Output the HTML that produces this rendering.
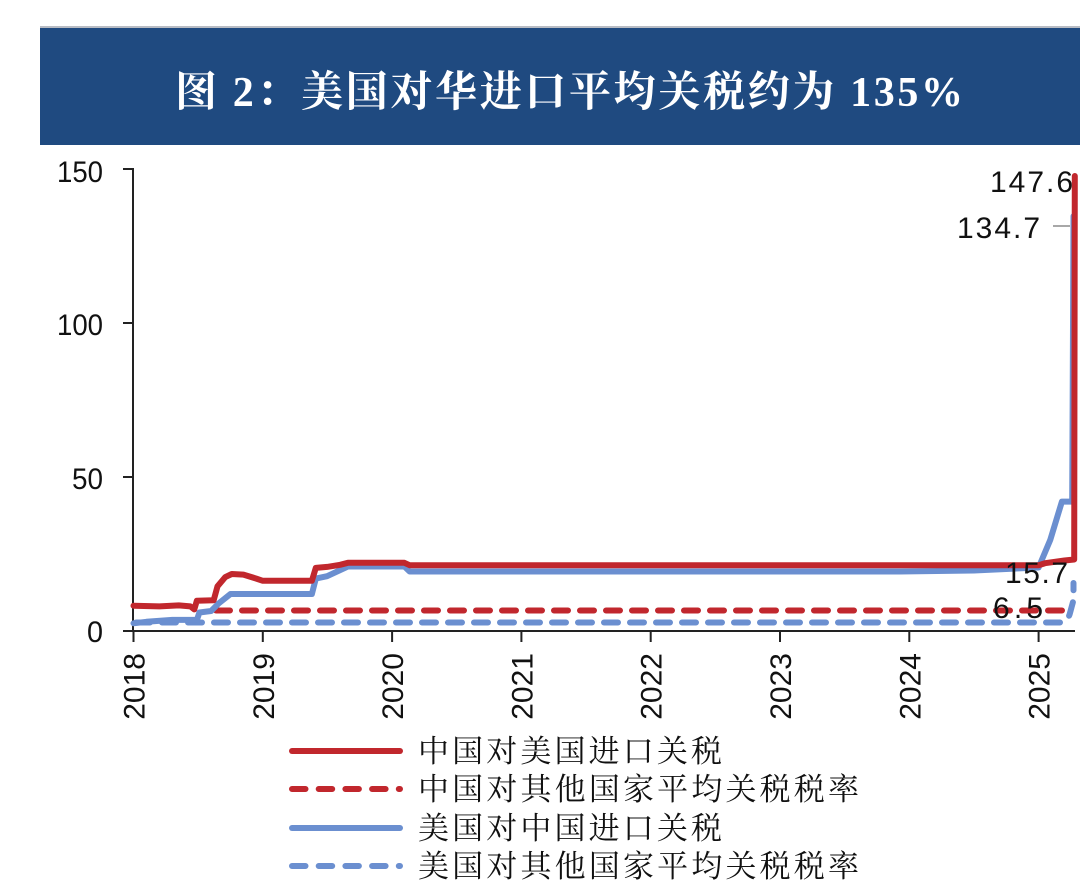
<!DOCTYPE html>
<html>
<head>
<meta charset="utf-8">
<style>
  html,body{margin:0;padding:0;background:#fff;}
  svg{display:block;}
</style>
</head>
<body>
<svg width="1080" height="892" viewBox="0 0 1080 892" xmlns="http://www.w3.org/2000/svg">
  <rect x="0" y="0" width="1080" height="892" fill="#ffffff"/>
  <!-- Title bar -->
  <rect x="40" y="26" width="1040" height="2" fill="#b8bcc4"/>
  <rect x="40" y="28" width="1040" height="117" fill="#1f4a80"/>
  <text x="175" y="106" fill="#ffffff" font-family="'Liberation Serif','Noto Serif CJK SC',serif" font-weight="bold" font-size="42" textLength="788" lengthAdjust="spacing">图 2：美国对华进口平均关税约为 135%</text>

  <!-- Axes -->
  <g stroke="#222" stroke-width="2" fill="none">
    <line x1="133" y1="168" x2="133" y2="632"/>
    <line x1="132" y1="631" x2="1075" y2="631"/>
    <line x1="123" y1="169" x2="133" y2="169"/>
    <line x1="123" y1="323" x2="133" y2="323"/>
    <line x1="123" y1="477" x2="133" y2="477"/>
    <line x1="123" y1="631" x2="133" y2="631"/>
    <line x1="133.5" y1="631" x2="133.5" y2="642"/>
    <line x1="262.8" y1="631" x2="262.8" y2="642"/>
    <line x1="392.1" y1="631" x2="392.1" y2="642"/>
    <line x1="521.4" y1="631" x2="521.4" y2="642"/>
    <line x1="650.7" y1="631" x2="650.7" y2="642"/>
    <line x1="780" y1="631" x2="780" y2="642"/>
    <line x1="909.3" y1="631" x2="909.3" y2="642"/>
    <line x1="1038.6" y1="631" x2="1038.6" y2="642"/>
  </g>

  <!-- Y labels -->
  <g font-family="'Liberation Sans',Arial,sans-serif" font-size="30" fill="#111" text-anchor="end">
    <text x="103" y="182" textLength="46" lengthAdjust="spacingAndGlyphs">150</text>
    <text x="103" y="335" textLength="46" lengthAdjust="spacingAndGlyphs">100</text>
    <text x="103" y="489" textLength="31" lengthAdjust="spacingAndGlyphs">50</text>
    <text x="103" y="642" textLength="16" lengthAdjust="spacingAndGlyphs">0</text>
  </g>

  <!-- X labels (rotated) -->
  <g font-family="'Liberation Sans',Arial,sans-serif" font-size="30" fill="#111" text-anchor="end">
    <text transform="translate(144.5,653) rotate(-90)">2018</text>
    <text transform="translate(273.8,653) rotate(-90)">2019</text>
    <text transform="translate(403.1,653) rotate(-90)">2020</text>
    <text transform="translate(532.4,653) rotate(-90)">2021</text>
    <text transform="translate(661.7,653) rotate(-90)">2022</text>
    <text transform="translate(791,653) rotate(-90)">2023</text>
    <text transform="translate(920.3,653) rotate(-90)">2024</text>
    <text transform="translate(1049.6,653) rotate(-90)">2025</text>
  </g>

  <!-- Series -->
  <path d="M216 610.5 H1074" stroke="#c1272d" stroke-width="6" fill="none" stroke-dasharray="14 12" stroke-linecap="round"/>
  <path d="M136 622.5 H1061 Q1068 621 1070 613 L1073.5 600 L1073.5 583" stroke="#6b8fd0" stroke-width="6" fill="none" stroke-dasharray="14 12" stroke-linecap="round" stroke-linejoin="round"/>

  <path d="M133.5 623.3 L146.4 621.8 L172.3 619.9 L196.9 619.9 L199.4 612.5 L211.1 611 L218.8 603.3 L230.5 594 L311.9 594 L315.8 578.6 L327.1 576.2 L347.9 566.5 L404.4 566.5 L409.6 571.5 L900 571.5 L973.9 570.5 L1038.6 567.5 L1050.2 540.1 L1061.9 501.6 L1072.2 501.6 L1073.5 216.1" stroke="#6b8fd0" stroke-width="6" fill="none" stroke-linejoin="round" stroke-linecap="round"/>

  <path d="M133.5 605.7 L159.4 606.4 L178.8 605.4 L190.4 606.4 L194.3 609.4 L196.8 600.8 L213.7 600.2 L217.5 586.3 L225.3 577.1 L231.8 574 L243.4 574.6 L256.3 578.6 L262.8 580.8 L311.9 580.8 L315.8 567.9 L327.1 566.9 L340.1 564.8 L347.9 562.8 L404.4 562.8 L409.6 565.2 L1038.6 565.2 L1045 563.2 L1064.5 560.5 L1074.2 559.5 L1074.8 176" stroke="#c1272d" stroke-width="6" fill="none" stroke-linejoin="round" stroke-linecap="round"/>

  <line x1="1053" y1="226" x2="1070" y2="226" stroke="#a8a8a8" stroke-width="2"/>

  <!-- Value labels -->
  <g font-family="'Liberation Sans',Arial,sans-serif" font-size="30" fill="#111">
    <text x="990" y="192" textLength="83" lengthAdjust="spacing">147.6</text>
    <text x="957" y="238" textLength="83" lengthAdjust="spacing">134.7</text>
    <text x="1005" y="583" textLength="63" lengthAdjust="spacing">15.7</text>
    <text x="993" y="618" textLength="50" lengthAdjust="spacing">6.5</text>
  </g>

  <!-- Legend -->
  <g fill="none" stroke-linecap="round">
    <line x1="292" y1="751" x2="400" y2="751" stroke="#c1272d" stroke-width="6"/>
    <line x1="292" y1="789" x2="400" y2="789" stroke="#c1272d" stroke-width="6" stroke-dasharray="13.5 13.2"/>
    <line x1="292" y1="828" x2="400" y2="828" stroke="#6b8fd0" stroke-width="6"/>
    <line x1="292" y1="866" x2="400" y2="866" stroke="#6b8fd0" stroke-width="6" stroke-dasharray="13.5 13.2"/>
  </g>
  <g font-family="'Liberation Serif','Noto Serif CJK SC',serif" font-size="31" fill="#111">
    <text x="418" y="762" textLength="304" lengthAdjust="spacing">中国对美国进口关税</text>
    <text x="418" y="800" textLength="441" lengthAdjust="spacing">中国对其他国家平均关税税率</text>
    <text x="418" y="839" textLength="304" lengthAdjust="spacing">美国对中国进口关税</text>
    <text x="418" y="877" textLength="441" lengthAdjust="spacing">美国对其他国家平均关税税率</text>
  </g>
</svg>
</body>
</html>
